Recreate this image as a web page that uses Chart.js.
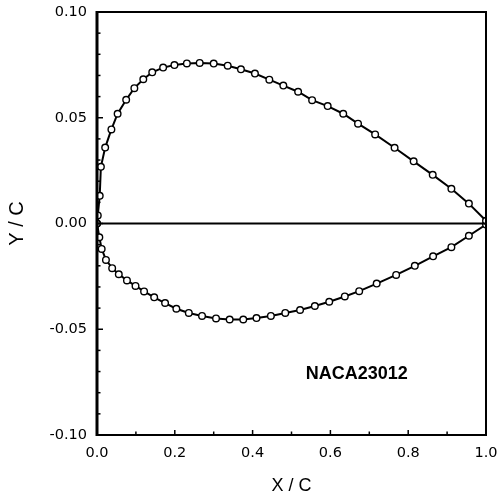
<!DOCTYPE html>
<html>
<head>
<meta charset="utf-8">
<script src="https://cdn.jsdelivr.net/npm/chart.js@4/dist/chart.umd.min.js"></script>
<style>
  html, body { margin: 0; padding: 0; background: #fff; }
  canvas { display: block; }
</style>
</head>
<body>
<canvas id="c" width="501" height="498"></canvas>
<script>
// NACA 23012 section, surface coordinates (x/c, y/c)
const upperX = [0, 0.002, 0.007, 0.010, 0.021, 0.037, 0.053, 0.075, 0.096, 0.119, 0.142, 0.170, 0.199, 0.231, 0.264, 0.300, 0.336, 0.370, 0.406, 0.443, 0.479, 0.517, 0.553, 0.593, 0.633, 0.671, 0.715, 0.765, 0.814, 0.863, 0.911, 0.956, 1.000];
const upperY = [0, 0.0038, 0.0131, 0.0268, 0.0359, 0.0445, 0.0519, 0.0585, 0.0640, 0.0682, 0.0715, 0.0737, 0.0749, 0.0757, 0.0759, 0.0756, 0.0746, 0.0729, 0.0709, 0.0680, 0.0652, 0.0623, 0.0583, 0.0555, 0.0519, 0.0472, 0.0421, 0.0358, 0.0294, 0.0230, 0.0164, 0.0094, 0.0013];

const lowerX = [0, 0.006, 0.012, 0.023, 0.039, 0.056, 0.077, 0.099, 0.121, 0.147, 0.175, 0.204, 0.236, 0.270, 0.306, 0.341, 0.376, 0.410, 0.447, 0.484, 0.522, 0.560, 0.597, 0.637, 0.674, 0.719, 0.769, 0.817, 0.864, 0.911, 0.956, 1.000];
const lowerY = [0, -0.0065, -0.0120, -0.0172, -0.0211, -0.0240, -0.0269, -0.0295, -0.0321, -0.0349, -0.0376, -0.0403, -0.0423, -0.0437, -0.0449, -0.0454, -0.0454, -0.0447, -0.0437, -0.0423, -0.0409, -0.0390, -0.0370, -0.0345, -0.0320, -0.0284, -0.0243, -0.0200, -0.0155, -0.0112, -0.0058, -0.0005];

// chord line
const chordX = [0, 1];
const chordY = [0, 0];

// axis ranges and labelled ticks
const xRange = [0, 1];
const yRange = [-0.10, 0.10];
const xTickLabels = ['0.0', '0.2', '0.4', '0.6', '0.8', '1.0'];
const yTickLabels = ['-0.10', '-0.05', '0.00', '0.05', '0.10'];

const sectionName = 'NACA23012';
const labelAt = { x: 0.668, y: -0.0713 };

const pts = (xs, ys) => xs.map((x, i) => ({ x: x, y: ys[i] }));

const tickFont = { family: 'DejaVu Sans', size: 14.5 };

const isXLabelled = v => Math.round(v * 10) % 2 === 0;
const isYLabelled = v => Math.round(Math.abs(v) * 100) % 5 === 0;

// frame, inward tick marks and the section name
const framePlugin = {
  id: 'frame',
  afterDatasetsDraw(chart) {
    const { ctx, chartArea: a, scales: { x, y } } = chart;
    ctx.save();
    ctx.strokeStyle = '#000';
    ctx.lineCap = 'butt';

    // inward ticks on the left axis
    ctx.lineWidth = 1.5;
    for (let i = -10; i <= 10; i++) {
      const v = i / 100;
      const py = y.getPixelForValue(v);
      const len = (i % 5 === 0) ? 6 : 3.5;
      ctx.beginPath();
      ctx.moveTo(a.left, py);
      ctx.lineTo(a.left + len, py);
      ctx.stroke();
    }
    // inward ticks on the bottom axis
    for (let i = 0; i <= 10; i++) {
      const v = i / 10;
      const px = x.getPixelForValue(v);
      const len = (i % 2 === 0) ? 5 : 3.5;
      ctx.beginPath();
      ctx.moveTo(px, a.bottom);
      ctx.lineTo(px, a.bottom - len);
      ctx.stroke();
    }

    // box
    ctx.lineWidth = 2;
    ctx.beginPath();
    ctx.moveTo(a.left, a.top);
    ctx.lineTo(a.right, a.top);
    ctx.lineTo(a.right, a.bottom);
    ctx.lineTo(a.left, a.bottom);
    ctx.stroke();
    ctx.lineWidth = 3;
    ctx.beginPath();
    ctx.moveTo(a.left, a.top - 1);
    ctx.lineTo(a.left, a.bottom + 1);
    ctx.stroke();

    // section name
    ctx.fillStyle = '#000';
    ctx.font = 'bold 18px "Liberation Sans", Arial, sans-serif';
    ctx.textAlign = 'center';
    ctx.textBaseline = 'middle';
    ctx.fillText(sectionName, x.getPixelForValue(labelAt.x), y.getPixelForValue(labelAt.y));
    ctx.restore();
  }
};

const pointStyle = {
  borderColor: '#000',
  borderWidth: 2,
  pointRadius: 3.3,
  pointBorderWidth: 1.4,
  pointBackgroundColor: '#fff',
  pointBorderColor: '#000',
  showLine: true,
  tension: 0
};

new Chart(document.getElementById('c'), {
  type: 'scatter',
  data: {
    datasets: [
      { label: 'chord', data: pts(chordX, chordY), borderColor: '#000', borderWidth: 2, pointRadius: 0, showLine: true },
      Object.assign({ label: 'upper', data: pts(upperX, upperY) }, pointStyle),
      Object.assign({ label: 'lower', data: pts(lowerX, lowerY) }, pointStyle)
    ]
  },
  options: {
    responsive: false,
    devicePixelRatio: 1,
    animation: false,
    layout: { padding: { top: 12, right: 15, left: 0, bottom: 0 } },
    plugins: { legend: { display: false }, tooltip: { enabled: false } },
    scales: {
      x: {
        type: 'linear',
        min: xRange[0], max: xRange[1],
        grid: { display: false, drawTicks: false },
        border: { display: false },
        ticks: {
          stepSize: 0.1, autoSkip: false, maxRotation: 0, color: '#000', font: tickFont, padding: 10,
          callback: v => isXLabelled(v) ? xTickLabels[Math.round(v * 5)] : ''
        },
        title: { display: true, text: 'X / C', color: '#000', font: { family: 'Liberation Sans', size: 18 }, padding: { top: 0, bottom: 1 } },
        afterFit: s => { s.height = 63; s.paddingLeft = 0; s.paddingRight = 0; }
      },
      y: {
        type: 'linear',
        min: yRange[0], max: yRange[1],
        grid: { display: false, drawTicks: false },
        border: { display: false },
        ticks: {
          stepSize: 0.01, autoSkip: false, color: '#000', font: tickFont, padding: 10,
          callback: v => isYLabelled(v) ? yTickLabels[Math.round(v * 20) + 2] : ''
        },
        title: { display: true, text: 'Y / C', color: '#000', font: { family: 'Liberation Sans', size: 20 }, padding: { top: 5, bottom: 0 } },
        afterFit: s => { s.width = 97; s.paddingTop = 0; s.paddingBottom = 0; }
      }
    }
  },
  plugins: [framePlugin]
});
</script>
</body>
</html>
